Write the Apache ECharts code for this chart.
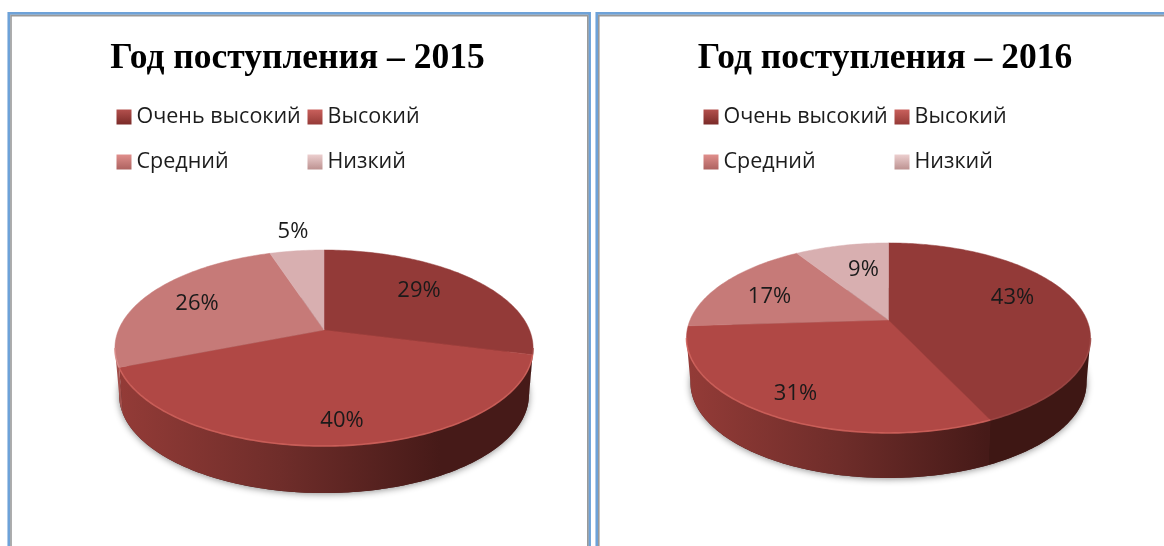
<!DOCTYPE html>
<html>
<head>
<meta charset="utf-8">
<title>Год поступления</title>
<script src="https://cdn.jsdelivr.net/npm/echarts@6/dist/echarts.min.js"></script>
<style>
    html, body { margin: 0; padding: 0; background: #fff; }
    #main { width: 1164px; height: 546px; }
</style>
</head>
<body>
<div id="main"></div>
<script>
var categories = ['Очень высокий', 'Высокий', 'Средний', 'Низкий'];
var values2015 = [29, 40, 26, 5];
var values2016 = [43, 31, 17, 9];
var titles = ['Год поступления – 2015', 'Год поступления – 2016'];

var topColors = ['#933a38', '#b04845', '#c67a78', '#d8afb0'];
var rimColors = ['#a04a47', '#d3655f', '#d98f8c', '#e2c0c0'];
var legendColors = [
    ['#b3504d', '#7a2a28'],
    ['#c9605c', '#953a37'],
    ['#e08f8c', '#ad6260'],
    ['#eccfcf', '#bd9291']
];

// geometry of the two tilted pies (perspective circle + side wall)
var pies = [{
    values: values2015, cx: 324, cy: 330, s: 205.5, r: 94.7, k: 0.184, depth: 47,
    rampFrom: 120, rampTo: 440,
    labels: [[95, -39], [18, 91], [-127, -26], [-31, -98]]
}, {
    values: values2016, cx: 888.5, cy: 320, s: 198.4, r: 91.6, k: 0.189, depth: 45,
    rampFrom: 690, rampTo: 987,
    labels: [[124, -22], [-93, 74], [-119, -23], [-25, -50]]
}];

function project(pie, deg, radius) {
    var a = deg * Math.PI / 180;
    var u = Math.sin(a) * radius;
    var v = -Math.cos(a) * radius;
    var w = 1 - pie.k * v;
    return [pie.cx + pie.s * u / w, pie.cy + pie.r * v / w];
}

function lower(pie, p) {
    return [pie.cx + (p[0] - pie.cx) * 0.98, p[1] + pie.depth];
}

function arc(pie, from, to) {
    var pts = [];
    var n = Math.max(2, Math.ceil(Math.abs(to - from)));
    for (var i = 0; i <= n; i++) {
        pts.push(project(pie, from + (to - from) * i / n, 1));
    }
    return pts;
}

function startAngle(values, idx) {
    var sum = 0;
    for (var i = 0; i < idx; i++) sum += values[i];
    return sum * 3.6;
}

function wallFill(pie, idx) {
    return {
        type: 'linear', global: true,
        x: pie.rampFrom, y: 0, x2: pie.rampTo, y2: 0,
        colorStops: [
            { offset: 0, color: idx == 2 ? '#a3504c' : '#933b37' },
            { offset: 0.5, color: '#6f2d2a' },
            { offset: 1, color: idx == 0 ? '#3e1714' : '#461a18' }
        ]
    };
}

function sliceSeries(pie, idx) {
    return {
        type: 'custom',
        name: categories[idx],
        coordinateSystem: 'none',
        z: 3,
        silent: true,
        data: [pie.values[idx]],
        renderItem: function(params, api) {
            var value = api.value(0);
            var from = startAngle(pie.values, idx);
            var to = from + value * 3.6;
            var children = [];

            // side wall: only the part of the rim turned towards the viewer
            var silhouette = Math.acos(pie.k) * 180 / Math.PI;
            var wallFrom = Math.max(from, 180 - silhouette);
            var wallTo = Math.min(to, 180 + silhouette);
            var rim = arc(pie, from, to);
            var hasWall = wallTo > wallFrom;
            if (hasWall) {
                var upper = arc(pie, wallFrom, wallTo);
                var bottom = upper.map(function(p) { return lower(pie, p); }).reverse();
                children.push({
                    type: 'polygon',
                    shape: { points: upper.concat(bottom) },
                    style: { fill: wallFill(pie, idx) }
                });
            }

            // top face
            children.push({
                type: 'polygon',
                shape: { points: [[pie.cx, pie.cy]].concat(rim) },
                style: { fill: topColors[idx], stroke: topColors[idx], lineWidth: 0.5 }
            });
            // bevel highlight on the front edge only
            if (hasWall) {
                children.push({
                    type: 'polyline',
                    shape: { points: arc(pie, wallFrom, wallTo) },
                    style: { fill: null, stroke: rimColors[idx], lineWidth: 1.6, opacity: 0.8 }
                });
            }

            // percent label
            children.push({
                type: 'text',
                z2: 10,
                style: {
                    x: pie.cx + pie.labels[idx][0],
                    y: pie.cy + pie.labels[idx][1],
                    text: value + '%',
                    fill: '#1a1a1a',
                    font: '22px "Open Sans"',
                    align: 'center',
                    verticalAlign: 'middle'
                }
            });
            return { type: 'group', children: children };
        }
    };
}

// soft shadow under the pie
function baseSeries(pie) {
    return {
        type: 'custom',
        name: 'base',
        coordinateSystem: 'none',
        z: 2,
        silent: true,
        data: [1],
        renderItem: function() {
            var ring = arc(pie, 0, 360).map(function(p) { return lower(pie, p); });
            return {
                type: 'polygon',
                shape: { points: ring },
                style: { fill: '#4a1c1a', shadowBlur: 7, shadowColor: 'rgba(0,0,0,0.45)', shadowOffsetY: 1 }
            };
        }
    };
}

var series = [];
pies.forEach(function(pie) {
    series.push(baseSeries(pie));
    categories.forEach(function(c, i) {
        series.push(sliceSeries(pie, i));
    });
});

// one legend per entry so that the two columns line up as in the slide
var legendCols = [116.5, 307.5];
var legendRows = [106, 151];
var legends = [];
[0, 587].forEach(function(shift) {
    categories.forEach(function(c, i) {
        legends.push({
            left: legendCols[i % 2] + shift,
            top: legendRows[i < 2 ? 0 : 1],
            padding: 0,
            itemWidth: 15,
            itemHeight: 15,
            itemGap: 0,
            selectedMode: false,
            icon: 'rect',
            textStyle: {
                color: '#1c1c1c',
                fontFamily: 'Open Sans',
                fontSize: 21.5,
                padding: [0, 0, 0, 0]
            },
            data: [{
                name: c,
                itemStyle: {
                    color: new echarts.graphic.LinearGradient(0, 0, 0, 1, [
                        { offset: 0, color: legendColors[i][0] },
                        { offset: 1, color: legendColors[i][1] }
                    ])
                }
            }]
        });
    });
});

// slide frames: blue outline with a thin grey line inside
function frame(blueX, blueRight, greyX, greyRight) {
    return [
        { type: 'rect', z: 0, shape: { x: blueX, y: 13.3, width: blueRight - blueX, height: 560 }, style: { fill: '#fff', stroke: '#6ea2d8', lineWidth: 2.7 } },
        { type: 'rect', z: 0, shape: { x: greyX, y: 15.6, width: greyRight - greyX, height: 560 }, style: { fill: 'none', stroke: '#999', lineWidth: 1.6 } }
    ];
}

var myChart = echarts.init(document.getElementById('main'), null, { renderer: 'canvas' });

var option = {
    animation: false,
    backgroundColor: '#fff',
    title: [
        { text: titles[0], left: 297.5, top: 41, textAlign: 'center', padding: 0,
          textStyle: { fontFamily: 'Liberation Serif', fontWeight: 'bold', fontSize: 35.5, color: '#000' } },
        { text: titles[1], left: 885, top: 41, textAlign: 'center', padding: 0,
          textStyle: { fontFamily: 'Liberation Serif', fontWeight: 'bold', fontSize: 35.5, color: '#000' } }
    ],
    legend: legends,
    graphic: frame(8.8, 589.6, 11, 587.8).concat(frame(596.8, 1200, 598.8, 1200)),
    series: series
};

myChart.setOption(option);
</script>
</body>
</html>
